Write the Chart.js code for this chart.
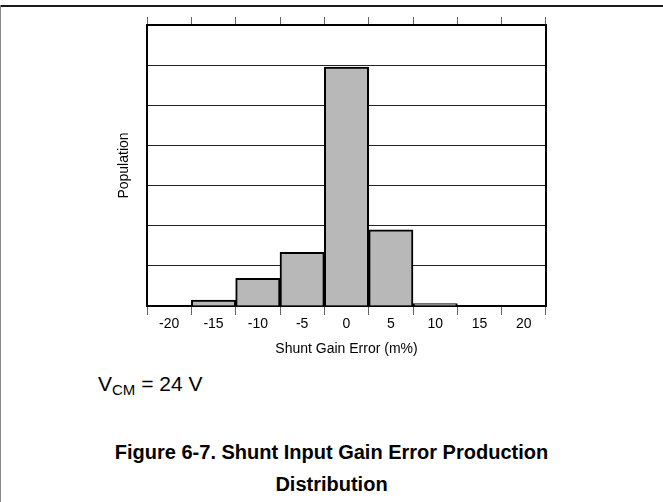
<!DOCTYPE html>
<html>
<head>
<meta charset="utf-8">
<script src="https://cdn.jsdelivr.net/npm/chart.js@4/dist/chart.umd.min.js"></script>
<style>
  html, body { margin: 0; padding: 0; background: #fff; }
  body { width: 663px; height: 502px; position: relative; overflow: hidden; font-family: "Liberation Sans", Arial, sans-serif; }
  #frameTop { position: absolute; left: 0; top: 5px; width: 663px; height: 0; border-top: 2px solid #1a1a1a; }
  #frameLeft { position: absolute; left: 0; top: 5px; width: 0; height: 497px; border-left: 1px solid #888; }
  #wrap { position: absolute; left: 0; top: 0; width: 663px; height: 362px; }
  #cond { position: absolute; left: 98px; top: 372px; font-size: 21px; line-height: 24px; color: #000; white-space: nowrap; }
  #cond sub { font-size: 15px; vertical-align: -4px; line-height: 0; }
  #caption { position: absolute; left: 0; top: 436px; width: 663px; text-align: center; font-weight: bold; font-size: 20px; line-height: 32px; color: #000; }
</style>
</head>
<body>
<div id="frameTop"></div>
<div id="frameLeft"></div>
<div id="wrap"><canvas id="c" width="663" height="362"></canvas></div>
<div id="cond">V<sub>CM</sub> = 24 V</div>
<div id="caption">Figure 6-7. Shunt Input Gain Error Production<br>Distribution</div>
<script>
// Data
const categories = ["-20", "-15", "-10", "-5", "0", "5", "10", "15", "20"];
const population = [0, 0.15, 0.69, 1.34, 5.95, 1.9, 0.06, 0, 0];
const yMax = 7;
const xTitle = "Shunt Gain Error (m%)";
const yTitle = "Population";

const FONT = "'Liberation Sans', Arial, sans-serif";

new Chart(document.getElementById('c'), {
  type: 'bar',
  data: {
    labels: categories,
    datasets: [{
      data: population,
      backgroundColor: '#b8b8b8',
      borderColor: '#000',
      borderWidth: 2,
      barPercentage: 1,
      categoryPercentage: 1,
      xAxisID: 'x',
      yAxisID: 'y'
    }]
  },
  options: {
    responsive: false,
    animation: false,
    devicePixelRatio: 1,
    layout: { padding: { left: 112, right: 117, top: 17, bottom: 0 } },
    plugins: { legend: { display: false }, tooltip: { enabled: false } },
    scales: {
      x: {
        type: 'category',
        position: 'bottom',
        offset: true,
        grid: { offset: true, drawOnChartArea: false, tickLength: 9, color: '#666', lineWidth: 1 },
        border: { color: '#000', width: 2 },
        ticks: { color: '#000', font: { family: FONT, size: 14 }, padding: 1, maxRotation: 0, autoSkip: false },
        title: { display: true, text: xTitle, color: '#000', font: { family: FONT, size: 14 }, padding: { top: 4, bottom: 4 } },
        afterFit: s => { s.height = 56; }
      },
      x2: {
        type: 'category',
        position: 'top',
        labels: categories,
        offset: true,
        grid: { offset: true, drawOnChartArea: false, tickLength: 8, color: '#666', lineWidth: 1 },
        border: { color: '#000', width: 2 },
        ticks: { display: false },
        afterFit: s => { s.height = 8; }
      },
      y: {
        type: 'linear',
        position: 'left',
        min: 0,
        max: yMax,
        ticks: { stepSize: 1, display: false },
        grid: { color: '#222', lineWidth: 1, drawTicks: false },
        border: { color: '#000', width: 2 },
        title: { display: true, text: yTitle, color: '#000', font: { family: FONT, size: 14 }, padding: { top: 4, bottom: 4 } },
        afterFit: s => { s.width = 35; }
      },
      y2: {
        type: 'linear',
        position: 'right',
        min: 0,
        max: yMax,
        ticks: { display: false },
        grid: { drawOnChartArea: false, drawTicks: false },
        border: { color: '#000', width: 2 },
        afterFit: s => { s.width = 0; }
      }
    }
  }
});
</script>
</body>
</html>
